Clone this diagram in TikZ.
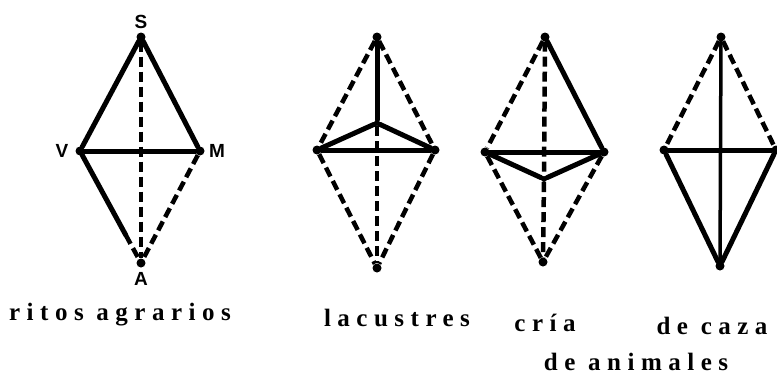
\documentclass[tikz,border=0pt]{standalone}
\usepackage{fontspec}
\setmainfont{Liberation Serif}
\newfontfamily\lblfont{Liberation Sans}
\usetikzlibrary{calc}
\begin{document}
\begin{tikzpicture}[x=1pt,y=-1pt,
  solidl/.style={line width=5pt, line join=round, line cap=round},
  thinsolid/.style={line width=3.5pt, line cap=round},
  dashl/.style={line width=4.5pt, dash pattern=on 10pt off 5pt},
  vert/.style={circle, fill, inner sep=0pt, minimum size=9pt},
  ptlabel/.style={font=\lblfont\bfseries\fontsize{19}{19}\selectfont, inner sep=0pt},
  caption/.style={font=\bfseries\fontsize{25}{25}\selectfont\addfontfeature{LetterSpace=26}, anchor=base, inner sep=0pt}]
\useasboundingbox (0,0) rectangle (777,375);

% ---- diagram 1 : ritos agrarios
\node[vert] (s1) at (141,37) {};
\node[vert] (v1) at (80,151) {};
\node[vert] (m1) at (200,151) {};
\node[vert] (a1) at (141,263) {};
\coordinate (va1) at ($(v1)!0.75!(a1)$);
\draw[solidl] (s1) -- (v1);
\draw[solidl] (s1) -- (m1);
\draw[solidl] (v1) -- (m1);
\draw[solidl] (v1) -- (va1);
\draw[dashl] (va1) -- (a1);
\draw[dashl] (m1) -- (a1);
\draw[dashl] (s1) -- (a1);
\node[ptlabel] (ls) at (141,22) {S};
\node[ptlabel] (lv) at (62,151) {V};
\node[ptlabel] (lm) at (217,151) {M};
\node[ptlabel] (la) at (141,279) {A};

% ---- diagram 2 : lacustres
\node[vert] (t2) at (377,37) {};
\node[vert] (l2) at (317,150) {};
\node[vert] (r2) at (435,150) {};
\node[vert] (b2) at (377,268) {};
\node[vert, minimum size=6pt] (i2) at (377,123) {};
\draw[dashl] (t2) -- (l2);
\draw[dashl] (t2) -- (r2);
\draw[solidl] (t2) -- (i2);
\draw[solidl] (i2) -- (l2);
\draw[solidl] (i2) -- (r2);
\draw[solidl] (l2) -- (r2);
\draw[dashl] (i2) -- (b2);
\draw[dashl] (l2) -- (b2);
\draw[dashl] (r2) -- (b2);

% ---- diagram 3 : cria de animales
\node[vert] (t3) at (545,37) {};
\node[vert] (l3) at (485,152) {};
\node[vert] (r3) at (604,152) {};
\node[vert] (b3) at (543,262) {};
\node[vert, minimum size=6pt] (i3) at (544,179) {};
\draw[dashl] (t3) -- (l3);
\draw[solidl] (t3) -- (r3);
\draw[dashl] (t3) -- (i3);
\draw[solidl] (l3) -- (r3);
\draw[solidl] (l3) -- (i3);
\draw[solidl] (r3) -- (i3);
\draw[dashl] (i3) -- (b3);
\draw[dashl] (l3) -- (b3);
\draw[dashl] (r3) -- (b3);

% ---- diagram 4 : de caza
\node[vert] (t4) at (721,37) {};
\node[vert] (l4) at (664,150) {};
\node[vert] (r4) at (776,150) {};
\node[vert] (b4) at (720,266) {};
\draw[dashl] (t4) -- (l4);
\draw[dashl] (t4) -- (r4);
\draw[thinsolid] (t4) -- (b4);
\draw[solidl] (l4) -- (r4);
\draw[solidl] (l4) -- (b4);
\draw[solidl] (r4) -- (b4);

% ---- captions
\node[caption] (c1) at (120,320) {ritos agrarios};
\node[caption] (c2) at (397,326) {lacustres};
\node[caption] (c3) at (545,331) {cría};
\node[caption] (c4) at (712,334) {de caza};
\node[caption] (c5) at (636,370) {de animales};
\end{tikzpicture}
\end{document}
